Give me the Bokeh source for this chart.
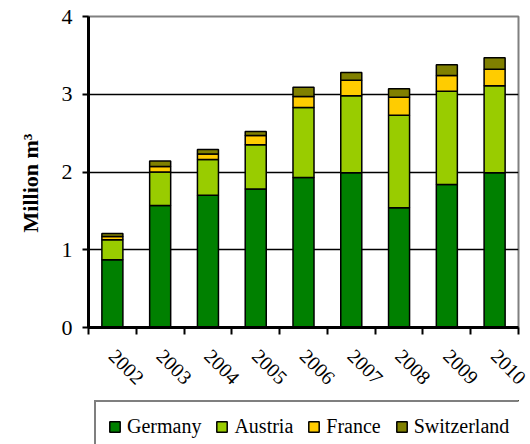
import math
from bokeh.plotting import figure
from bokeh.layouts import column
from bokeh.models import (ColumnDataSource, FixedTicker, Legend, LegendItem, Range1d)
from bokeh.embed import file_html
from bokeh.resources import INLINE

years = ["2002", "2003", "2004", "2005", "2006", "2007", "2008", "2009", "2010"]
germany = [0.87, 1.57, 1.70, 1.78, 1.93, 1.99, 1.54, 1.84, 1.99]
austria = [0.26, 0.43, 0.46, 0.57, 0.90, 0.99, 1.19, 1.20, 1.12]
france = [0.04, 0.07, 0.07, 0.12, 0.14, 0.20, 0.23, 0.20, 0.21]
switzerland = [0.04, 0.07, 0.06, 0.05, 0.12, 0.10, 0.11, 0.14, 0.15]
series = ["Germany", "Austria", "France", "Switzerland"]
colors = ["#008000", "#99CC00", "#FFCC00", "#808000"]
y_ticks = [0, 1, 2, 3, 4]

xpos = [i + 0.5 for i in range(len(years))]
source = ColumnDataSource(dict(x=xpos, Germany=germany, Austria=austria,
                               France=france, Switzerland=switzerland))

FONT = "Liberation Serif"

p = figure(width=530, height=400, output_backend="svg", toolbar_location=None,
           x_range=Range1d(0, len(years)), y_range=Range1d(0, 4),
           min_border_left=88, min_border_right=12, min_border_top=16,
           min_border_bottom=73)
p.outline_line_color = "#808080"
p.outline_line_width = 2

renderers = p.vbar_stack(series, x="x", width=0.44, source=source, color=colors,
                         line_color="black", line_width=1.5)

# y axis
p.yaxis.ticker = FixedTicker(ticks=y_ticks)
p.yaxis.axis_line_width = 3
p.yaxis.axis_line_color = "black"
p.yaxis.major_tick_out = 6
p.yaxis.major_tick_in = 0
p.yaxis.major_tick_line_width = 2
p.yaxis.minor_tick_line_color = None
p.yaxis.major_label_text_font = FONT
p.yaxis.major_label_text_font_size = "22px"
p.yaxis.major_label_text_color = "black"
p.yaxis.major_label_standoff = 10
p.yaxis.axis_label = "Million m\u00b3\u00a0\u00a0\u00a0\u00a0"
p.yaxis.axis_label_text_font = FONT
p.yaxis.axis_label_text_font_style = "bold"
p.yaxis.axis_label_text_font_size = "22px"
p.yaxis.axis_label_text_color = "black"
p.yaxis.axis_label_standoff = 16

# x axis
p.xaxis.ticker = FixedTicker(ticks=xpos, minor_ticks=list(range(len(years) + 1)))
p.xaxis.major_label_overrides = {x: y for x, y in zip(xpos, years)}
p.xaxis.major_tick_out = 0
p.xaxis.major_tick_in = 0
p.xaxis.minor_tick_out = 7
p.xaxis.minor_tick_in = 0
p.xaxis.minor_tick_line_width = 2
p.xaxis.minor_tick_line_color = "black"
p.xaxis.axis_line_width = 3
p.xaxis.axis_line_color = "black"
p.xaxis.major_label_orientation = -math.pi / 4
p.xaxis.major_label_text_font = FONT
p.xaxis.major_label_text_font_size = "20px"
p.xaxis.major_label_text_color = "black"
p.xaxis.major_label_standoff = 18

# grid
p.xgrid.grid_line_color = None
p.ygrid.ticker = FixedTicker(ticks=[1, 2, 3])
p.ygrid.grid_line_color = "black"
p.ygrid.grid_line_width = 1.5
p.ygrid.level = "underlay"

# legend strip below the chart
lg = figure(width=530, height=44, output_backend="svg", toolbar_location=None,
            x_range=Range1d(0, 1), y_range=Range1d(0, 1),
            x_axis_type=None, y_axis_type=None,
            min_border=0, min_border_left=0, min_border_right=0,
            min_border_top=0, min_border_bottom=0)
lg.outline_line_color = None
lg.grid.visible = False
dummies = [lg.vbar(x=[5], top=[5], bottom=[4], width=0.1, color=c,
                   line_color="black", line_width=1.5) for c in colors]
items = [LegendItem(label=s, renderers=[r]) for s, r in zip(series, dummies)]
legend = Legend(items=items, orientation="horizontal", location=(6, -8),
                label_text_font=FONT, label_text_font_size="20px",
                label_text_color="black",
                glyph_width=13, glyph_height=13, label_height=24,
                label_standoff=6, spacing=14, padding=12, margin=0,
                border_line_color="black", border_line_width=2,
                background_fill_alpha=1)
lg.add_layout(legend, "center")

layout = column(p, lg, spacing=0)
open("out.html", "w").write(file_html(layout, INLINE))
